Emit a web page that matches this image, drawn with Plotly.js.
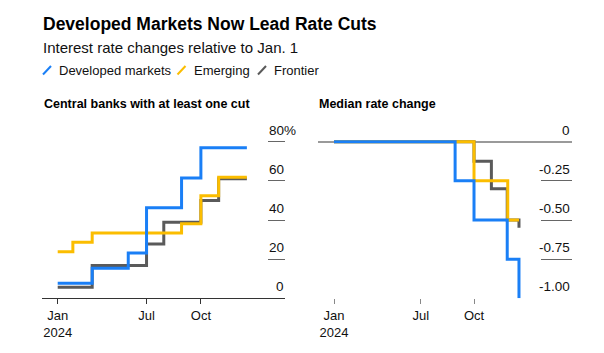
<!DOCTYPE html>
<html>
<head>
<meta charset="utf-8">
<script src="https://cdn.plot.ly/plotly-3.0.1.min.js"></script>
<style>
  html, body { margin: 0; padding: 0; background: #fff; }
  #chart { width: 604px; height: 353px; }
</style>
</head>
<body>
<div id="chart"></div>
<script>
// ---------------- DATA ----------------
const seriesNames = ['Developed markets', 'Emerging', 'Frontier'];

// Left panel: share of central banks with at least one cut (%)
const devDatesL = ['2024-01-01','2024-03-07','2024-05-15','2024-06-19','2024-08-25','2024-10-01','2024-12-28'];
const devCutShare = [7.7, 15.4, 23.1, 46.2, 61.5, 76.9, 76.9];
const emDatesL = ['2024-01-01','2024-01-30','2024-03-07','2024-08-25','2024-10-01','2024-11-04','2024-12-28'];
const emCutShare = [23.8, 28.6, 33.3, 38.1, 52.4, 61.9, 61.9];
const frDatesL = ['2024-01-01','2024-03-07','2024-06-19','2024-07-22','2024-10-01','2024-11-04','2024-12-28'];
const frCutShare = [5.6, 16.7, 27.8, 38.9, 50.0, 61.1, 61.1];

// Right panel: median rate change (percentage points)
const devDatesR = ['2024-01-01','2024-08-25','2024-10-01','2024-12-05','2024-12-28'];
const devMedian = [0, -0.25, -0.5, -0.75, -1.0];
const emDatesR = ['2024-01-01','2024-10-01','2024-12-06','2024-12-28'];
const emMedian = [0, -0.25, -0.5, -0.5];
const frDatesR = ['2024-01-01','2024-10-01','2024-11-04','2024-12-05','2024-12-28'];
const frMedian = [0, -0.125, -0.3, -0.5, -0.55];

// Tick labels
const xTickDates = ['2024-01-01','2024-06-19','2024-10-01'];
const xTickText = ['Jan<br>2024','Jul','Oct'];
const leftTickVals = [0, 20, 40, 60, 80];
const leftTickText = ['0', '20', '40', '60', '80'];
const rightTickVals = [0, -0.25, -0.5, -0.75, -1];
const rightTickText = ['0', '-0.25', '-0.50', '-0.75', '-1.00'];

// ---------------- STYLE / LAYOUT ----------------
const W = 604, H = 353;
const FONT = 'Liberation Sans, Arial, Helvetica, sans-serif';
const colors = ['#1a7ff6', '#fbbd00', '#5a5a5a'];
const px = x => x / W;
const py = y => 1 - y / H;
function dateAt(d) {
  const t = Date.UTC(2024, 0, 1) + d * 86400000;
  return new Date(t).toISOString().replace('T', ' ').replace('Z', '');
}

function trace(x, y, color, xa, ya) {
  return { x: x, y: y, type: 'scatter', mode: 'lines', line: { shape: 'hv', width: 3, color: color },
           xaxis: xa, yaxis: ya, showlegend: false, hoverinfo: 'skip' };
}

const data = [
  trace(frDatesL, frCutShare, colors[2], 'x', 'y'),
  trace(emDatesL, emCutShare, colors[1], 'x', 'y'),
  trace(devDatesL, devCutShare, colors[0], 'x', 'y'),
  trace(frDatesR, frMedian, colors[2], 'x2', 'y2'),
  trace(emDatesR, emMedian, colors[1], 'x2', 'y2'),
  trace(devDatesR, devMedian, colors[0], 'x2', 'y2')
];

const plotTop = 120, plotBottom = 298.3;
const leftX0 = 42, leftX1 = 285, rightX0 = 318, rightX1 = 572;
const leftScale = 0.5226, rightScale = 0.511; // px per day
const jan0L = 57.7, jan0R = 334;

const annotations = [];
const shapes = [];

function addText(text, x, y, size, bold, color, anchor) {
  annotations.push({ text: bold ? '<b>' + text + '</b>' : text, xref: 'paper', yref: 'paper',
    x: px(x), y: py(y), xanchor: anchor || 'left', yanchor: 'middle', showarrow: false,
    font: { family: FONT, size: size, color: color || '#000' } });
}
addText('Developed Markets Now Lead Rate Cuts', 40.5, 24.5, 17.5, true, '#000');
addText('Interest rate changes relative to Jan. 1', 40.5, 47, 15, false, '#111');
addText('Central banks with at least one cut', 41.5, 104.5, 12.5, true, '#000');
addText('Median rate change', 316.5, 104.5, 12.5, true, '#000');

// legend
const legX = [[43, 57], [177.5, 192], [258, 271.5]];
[0, 1, 2].forEach(i => {
  shapes.push({ type: 'line', xref: 'paper', yref: 'paper', x0: px(legX[i][0]), y0: py(74.5), x1: px(legX[i][0] + 8), y1: py(66),
    line: { color: colors[i], width: 2 } });
  addText(seriesNames[i], legX[i][1], 70.5, 13, false, '#111');
});

// y tick labels
leftTickVals.forEach((v, i) => {
  annotations.push({ text: leftTickText[i], xref: 'paper', yref: 'y', x: px(285.5), y: v, xanchor: 'right', yanchor: 'bottom',
    yshift: 2, showarrow: false, font: { family: FONT, size: 13.5, color: '#111' } });
});
annotations.push({ text: '%', xref: 'paper', yref: 'y', x: px(281.5), y: 80, xanchor: 'left', yanchor: 'bottom',
  yshift: 2, showarrow: false, font: { family: FONT, size: 13.5, color: '#111' } });
rightTickVals.forEach((v, i) => {
  annotations.push({ text: rightTickText[i], xref: 'paper', yref: 'y2', x: px(572), y: v, xanchor: 'right', yanchor: 'bottom',
    yshift: 2, showarrow: false, font: { family: FONT, size: 13.5, color: '#111' } });
});

const leftTopVal = (plotBottom - plotTop) * 80 / (plotBottom - 141.7);
const rightTopVal = (141.7 - plotTop) / (plotBottom - 141.7);

const xCommon = {
  type: 'date', tickvals: xTickDates, ticktext: xTickText, ticks: 'outside', ticklen: 5, tickwidth: 1,
  showgrid: false, zeroline: false, fixedrange: true,
  tickfont: { family: FONT, size: 13, color: '#111' }
};

const layout = {
  width: W, height: H, margin: { l: 0, r: 0, t: 0, b: 0 },
  paper_bgcolor: '#fff', plot_bgcolor: 'rgba(0,0,0,0)', showlegend: false,
  xaxis: Object.assign({}, xCommon, {
    domain: [px(leftX0), px(leftX1)], anchor: 'y',
    range: [dateAt((leftX0 - jan0L) / leftScale), dateAt((leftX1 - jan0L) / leftScale)],
    showline: true, linecolor: '#333', linewidth: 1, tickcolor: '#333'
  }),
  yaxis: {
    domain: [py(plotBottom), py(plotTop)], anchor: 'x', side: 'right', range: [0, leftTopVal],
    tickvals: [20, 40, 60, 80], ticks: 'inside', ticklen: 17, tickwidth: 1, tickcolor: '#666',
    showticklabels: false, showgrid: false, zeroline: false, showline: false, fixedrange: true
  },
  xaxis2: Object.assign({}, xCommon, {
    domain: [px(rightX0), px(rightX1)], anchor: 'y2',
    range: [dateAt((rightX0 - jan0R) / rightScale), dateAt((rightX1 - jan0R) / rightScale)],
    showline: false, tickcolor: '#888'
  }),
  yaxis2: {
    domain: [py(plotBottom), py(plotTop)], anchor: 'x2', side: 'right', range: [-1, rightTopVal],
    tickvals: [-0.25, -0.5, -0.75, -1], ticks: 'inside', ticklen: 31, tickwidth: 1, tickcolor: '#666',
    showticklabels: false, showgrid: false, zeroline: true, zerolinecolor: '#9a9a9a', zerolinewidth: 2,
    showline: false, fixedrange: true
  },
  annotations: annotations,
  shapes: shapes
};

Plotly.newPlot('chart', data, layout, { displayModeBar: false, staticPlot: true });
</script>
</body>
</html>
